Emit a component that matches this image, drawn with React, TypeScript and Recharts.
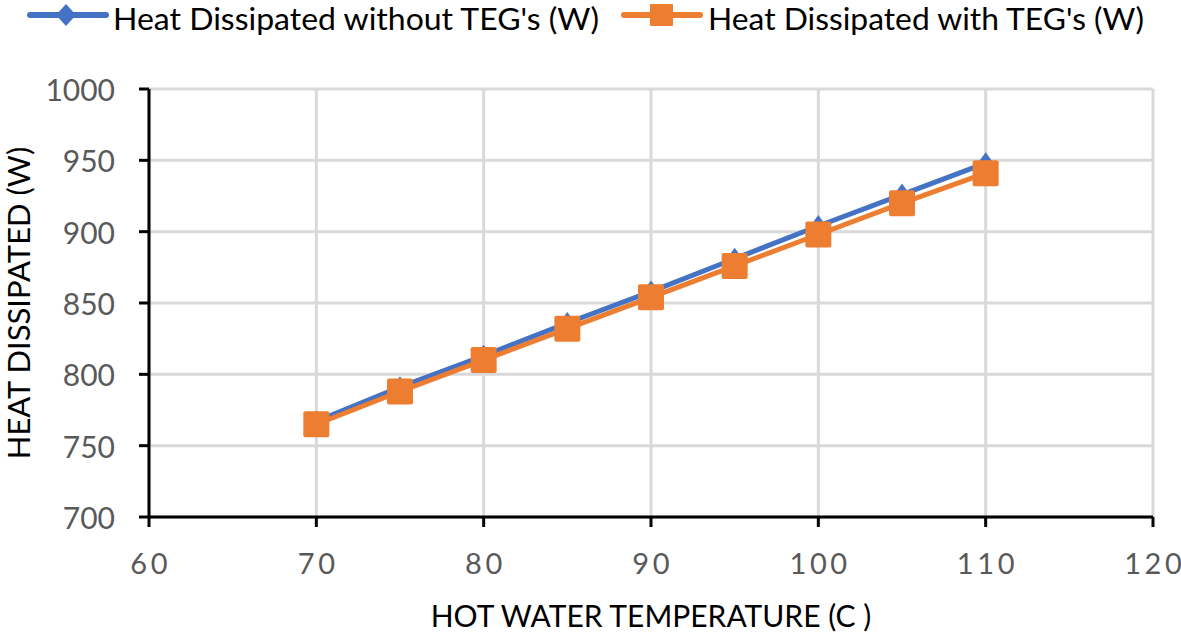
import React from 'react';
import { LineChart, Line, XAxis, YAxis, CartesianGrid, Label } from 'recharts';

const temps = [70, 75, 80, 85, 90, 95, 100, 105, 110];
const withoutTeg = [767, 791, 813, 836, 858, 881, 904, 926, 948];
const withTeg = [765, 788, 810, 832, 854, 876, 898, 920, 941];
const xTicks = [60, 70, 80, 90, 100, 110, 120];
const yTicks = [700, 750, 800, 850, 900, 950, 1000];

const data = temps.map((t, i) => ({ temp: t, without: withoutTeg[i], with: withTeg[i] }));

const BLUE = '#4472c4';
const ORANGE = '#ed7d31';
const FONT = 'Lato, "Open Sans", sans-serif';

function Diamond({ cx, cy }: any) {
  if (cx == null || cy == null) return null;
  return <polygon points={`${cx},${cy - 11} ${cx + 8},${cy} ${cx},${cy + 11} ${cx - 8},${cy}`} fill={BLUE} />;
}

function Square({ cx, cy }: any) {
  if (cx == null || cy == null) return null;
  return <rect x={cx - 13} y={cy - 13} width={26} height={26} rx={2} fill={ORANGE} />;
}

function XTick({ x, y, payload }: any) {
  return (
    <text x={x} y={y + 33} textAnchor="middle" fill="#595959" fontSize={29} fontFamily={FONT} dominantBaseline="central">
      {String(payload.value).split('').join('\u2009')}
    </text>
  );
}

function YTick({ x, y, payload }: any) {
  return (
    <text x={x - 22} y={y} textAnchor="end" fill="#595959" fontSize={30} fontFamily={FONT} dominantBaseline="central">
      {payload.value}
    </text>
  );
}

function YTitle({ viewBox }: any) {
  const cy = viewBox.y + viewBox.height / 2;
  return (
    <text x={18} y={cy} transform={`rotate(-90, 18, ${cy})`} textAnchor="middle" dominantBaseline="central" fill="#000" fontSize={31} fontFamily={FONT}>
      HEAT DISSIPATED (W)
    </text>
  );
}

function LegendItem({ left, color, marker, label }: { left: number; color: string; marker: 'diamond' | 'square'; label: string }) {
  return (
    <div style={{ position: 'absolute', top: 0, left, height: 36, width: 600 }}>
      <svg width={600} height={36} style={{ display: 'block' }}>
        <line x1={3} y1={15} x2={79} y2={15} stroke={color} strokeWidth={6} strokeLinecap="round" />
        {marker === 'diamond' ? (
          <polygon points="39,4 49,15 39,26 29,15" fill={color} />
        ) : (
          <rect x={29} y={4} width={23} height={22} rx={1} fill={color} />
        )}
        <text x={86} y={30} fontFamily={FONT} fontSize={30} fill="#000" textLength={486} lengthAdjust="spacingAndGlyphs">{label}</text>
      </svg>
    </div>
  );
}

export default function App() {
  return (
    <div style={{ position: 'absolute', top: 0, left: 0, width: 1181, height: 633, background: '#fff' }}>
      <LegendItem left={27} color={BLUE} marker="diamond" label="Heat Dissipated without TEG's (W)" />
      <div style={{ position: 'absolute', top: 0, left: 621, height: 36, width: 560 }}>
        <svg width={560} height={36} style={{ display: 'block' }}>
          <line x1={3} y1={15} x2={79} y2={15} stroke={ORANGE} strokeWidth={6} strokeLinecap="round" />
          <rect x={29} y={4} width={23} height={22} rx={1} fill={ORANGE} />
          <text x={87} y={30} fontFamily={FONT} fontSize={30} fill="#000" textLength={436} lengthAdjust="spacingAndGlyphs">Heat Dissipated with TEG's (W)</text>
        </svg>
      </div>
      <LineChart width={1181} height={633} data={data} margin={{ top: 89, right: 28, bottom: 0, left: 0 }}>
        <CartesianGrid stroke="#d9d9d9" strokeWidth={3} />
        <XAxis
          dataKey="temp"
          type="number"
          domain={[60, 120]}
          ticks={xTicks}
          height={116}
          stroke="#000"
          strokeWidth={3}
          tickSize={10}
          tick={<XTick />}
          interval={0}
        >
          <Label value="HOT WATER TEMPERATURE (C )" position="insideBottom" offset={6} fill="#000" fontSize={30} fontFamily={FONT} />
        </XAxis>
        <YAxis
          type="number"
          domain={[700, 1000]}
          ticks={yTicks}
          width={149}
          stroke="#000"
          strokeWidth={3}
          tickSize={10}
          tick={<YTick />}
          interval={0}
        >
          <Label content={<YTitle />} />
        </YAxis>
        <Line dataKey="without" stroke={BLUE} strokeWidth={5} dot={<Diamond />} isAnimationActive={false} />
        <Line dataKey="with" stroke={ORANGE} strokeWidth={5} dot={<Square />} isAnimationActive={false} />
      </LineChart>
    </div>
  );
}
